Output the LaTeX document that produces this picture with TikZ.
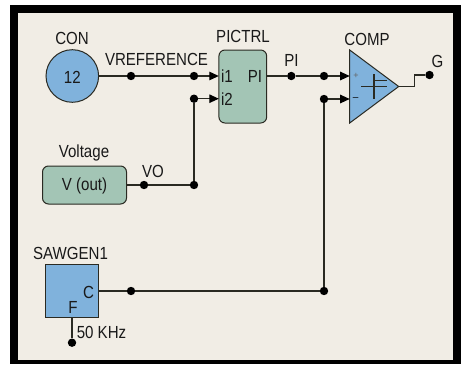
\documentclass[tikz,border=0pt]{standalone}
\usepackage{fontspec}
\setmainfont{Liberation Sans}
\usetikzlibrary{arrows.meta}
\definecolor{paper}{HTML}{F1EDE5}
\definecolor{bluefill}{HTML}{80B2DC}
\definecolor{greenfill}{HTML}{A3C5B5}
\definecolor{wire}{HTML}{2A2A22}
\newcommand{\nt}[1]{\scalebox{.861}[1]{#1}}
\tikzset{
  x=1pt,y=-1pt,
  lbl/.style={inner sep=0pt,font=\fontsize{17.5}{18}\selectfont,text=black!90},
  blueshape/.style={draw=wire,line width=1pt,fill=bluefill},
  greenbox/.style={draw=wire,line width=1pt,fill=greenfill,rounded corners=6pt},
  wireline/.style={draw=wire,line width=1.1pt},
  arrowline/.style={wireline,-{Triangle[length=9.5pt,width=8.5pt,black]}},
  dot/.style={circle,fill=black,inner sep=0pt,minimum size=8.4pt},
}
\begin{document}
\begin{tikzpicture}
\useasboundingbox (0,0) rectangle (468,364);
\fill[white] (0,0) rectangle (468,364);
\fill[black] (10,5) rectangle (460.5,364);
\fill[paper] (18,13) rectangle (452.5,360);

% blocks
\node[circle,blueshape,minimum size=52.6pt,inner sep=0pt] (con) at (72.3,76) {};
\node[lbl] (conval) at (72.3,77) {\nt{12}};
\node[lbl] (conlbl) at (72,38.5) {\nt{CON}};
\node[greenbox,minimum width=47.7pt,minimum height=73pt,inner sep=0pt] (pic) at (242.8,86.5) {};
\node[lbl] (piclbl) at (243,36) {\nt{PICTRL}};
\node[lbl] (i1) at (227,76.5) {\nt{i1}};
\node[lbl] (i2) at (227,99) {\nt{i2}};
\node[lbl] (piout) at (255,76.5) {\nt{PI}};
\coordinate (triA) at (349.7,50);
\coordinate (triB) at (349.7,123);
\coordinate (triC) at (398.7,86.5);
\draw[blueshape,line join=miter] (triA) -- (triC) -- (triB) -- cycle;
\node[lbl] (cmplbl) at (367,39) {\nt{COMP}};
\node[inner sep=0pt,text=black!60,font=\fontsize{9}{9}\selectfont] (plus) at (356,75.5) {+};
\node[inner sep=0pt,font=\fontsize{10}{10}\selectfont] (minus) at (355.7,99) {–};
\coordinate (s1) at (361,86.7); \coordinate (s2) at (386.7,86.7);
\coordinate (s3) at (374,74); \coordinate (s4) at (374,99);
\coordinate (s5) at (374,80.7); \coordinate (s6) at (387,80.7);
\draw[wireline] (s1)--(s2) (s3)--(s4) (s5)--(s6);
\node[greenbox,minimum width=84pt,minimum height=38pt,inner sep=0pt] (volt) at (84.5,185) {};
\node[lbl] (voltval) at (84.5,185.5) {\nt{V (out)}};
\node[lbl] (voltlbl) at (84,153) {\nt{Voltage}};
\node[draw=wire,line width=1pt,fill=bluefill,minimum size=53pt,inner sep=0pt] (saw) at (72.2,291.2) {};
\node[lbl] (sawlbl) at (70.5,253) {\nt{SAWGEN1}};
\node[lbl] (sawc) at (88.5,292) {\nt{C}};
\node[lbl] (sawf) at (73,307) {\nt{F}};
\node[lbl] (freq) at (101.5,332) {\nt{50 KHz}};
\node[lbl] (vreflbl) at (156.5,59) {\nt{VREFERENCE}};
\node[lbl] (pilbl) at (291.5,60.5) {\nt{PI}};
\node[lbl] (vol) at (153,171.5) {\nt{VO}};
\node[lbl] (glbl) at (437.5,61) {\nt{G}};

% junction dots
\node[dot] (d1) at (131,76) {};
\node[dot] (d2) at (194,76) {};
\node[dot] (d3) at (194,98.7) {};
\node[dot] (d4) at (144,185) {};
\node[dot] (d5) at (194,185) {};
\node[dot] (d6) at (291.3,76) {};
\node[dot] (d7) at (324,76) {};
\node[dot] (d8) at (324,99) {};
\node[dot] (d9) at (429.5,75) {};
\node[dot] (d10) at (131,291) {};
\node[dot] (d11) at (324,291) {};
\node[dot] (d12) at (72,342.7) {};

% connectors
\coordinate (picin1) at (218.8,76);
\coordinate (picin2) at (218.8,98.7);
\coordinate (cmpin1) at (349.7,76);
\coordinate (cmpin2) at (349.7,99);
\coordinate (outk1) at (414.7,86.5);
\coordinate (outk2) at (414.7,75);
\draw[wireline] (con.east) -- (d1) -- (d2);
\draw[arrowline] (d2) -- (picin1);
\draw[arrowline] (d3) -- (picin2);
\draw[wireline] (d3) -- (d5);
\draw[wireline] (volt.east) -- (d4) -- (d5);
\draw[wireline] (pic.east |- d6) -- (d6) -- (d7);
\draw[arrowline] (d7) -- (cmpin1);
\draw[arrowline] (d8) -- (cmpin2);
\draw[wireline] (d8) -- (d11);
\draw[wireline] (saw.east |- d10) -- (d10) -- (d11);
\draw[wireline] (triC) -- (outk1) -- (outk2) -- (d9);
\draw[wireline] (saw.south -| d12) -- (d12);
\end{tikzpicture}
\end{document}
